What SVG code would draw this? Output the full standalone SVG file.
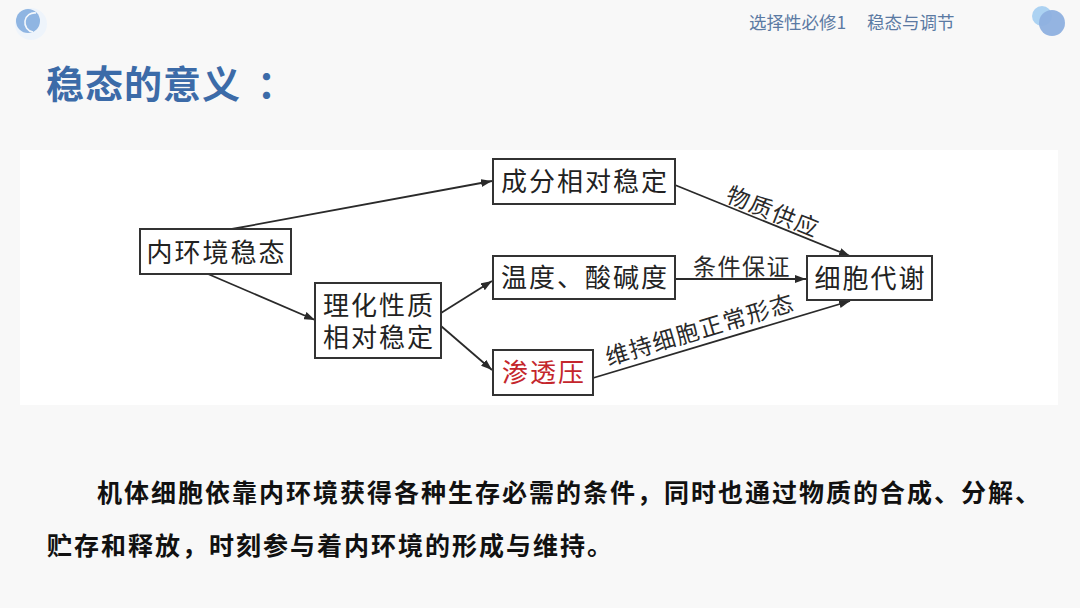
<svg xmlns="http://www.w3.org/2000/svg" width="1080" height="608" viewBox="0 0 1080 608">
<defs>
<style>
.bg{fill:#f8f8f8}
.panel{fill:#ffffff}
.box{fill:#ffffff;stroke:#333333;stroke-width:2}
.nt{font-family:"Noto Sans CJK SC","Noto Sans",sans-serif;font-size:26px;letter-spacing:2px;fill:#222222;text-anchor:middle}
.red{fill:#c4262c}
.lbl{font-family:"Noto Sans CJK SC","Noto Sans",sans-serif;font-size:23px;letter-spacing:1.5px;fill:#2a2a2a;text-anchor:middle}
.conn{stroke:#2a2a2a;stroke-width:1.8;fill:none;marker-end:url(#arr)}
.body{font-family:"Noto Sans CJK SC","Noto Sans",sans-serif;font-size:25px;font-weight:bold;letter-spacing:2px;fill:#111111}
.hdr{font-family:"Noto Sans CJK SC","Noto Sans",sans-serif;font-size:17.5px;fill:#5b7aa3}
.title{font-family:"Noto Sans CJK SC","Noto Sans",sans-serif;font-size:38px;font-weight:bold;letter-spacing:1px;fill:#3c6ba8}
</style>
<marker id="arr" markerUnits="userSpaceOnUse" markerWidth="11" markerHeight="8" refX="11" refY="4" orient="auto">
<path d="M0,0 L11,4 L0,8 z" fill="#2a2a2a"/>
</marker>
</defs>
<rect class="bg" x="0" y="0" width="1080" height="608"/>
<g id="decor">
<circle cx="31" cy="24" r="16" fill="#eef4fb"/>
<circle cx="28" cy="21" r="12" fill="#8fb5e2"/>
<path d="M36,13 A9,9 0 0 0 33,32" fill="none" stroke="#ffffff" stroke-width="1.6" opacity="0.9"/>
<circle cx="1042" cy="16" r="10" fill="#acd2f2"/>
<circle cx="1052" cy="23" r="13" fill="#8eb0df" opacity="0.95"/>
</g>
<text class="hdr" x="749" y="29">选择性必修1</text>
<text class="hdr" x="867" y="29">稳态与调节</text>
<text class="title" x="46" y="98">稳态的意义<tspan dx="16">：</tspan></text>
<rect class="panel" x="20" y="150" width="1038" height="255"/>
<g id="connectors">
<path class="conn" d="M232,229 L492,181"/>
<path class="conn" d="M208,274 L315,320"/>
<path class="conn" d="M441,313 L492,281"/>
<path class="conn" d="M441,326 L492,370"/>
<path class="conn" d="M675,185 L850,256"/>
<path class="conn" d="M675,279 L806,279"/>
<path class="conn" d="M593,378 L850,301"/>
<text class="lbl" transform="translate(773,212) rotate(22)" x="0" y="8">物质供应</text>
<text class="lbl" x="742" y="275">条件保证</text>
<text class="lbl" transform="translate(700,330) rotate(-16.7)" x="0" y="8">维持细胞正常形态</text>
</g>
<g id="node-neihuanjing">
<rect class="box" x="140" y="229" width="151" height="45"/>
<text class="nt" x="216.5" y="262">内环境稳态</text>
</g>
<g id="node-lihua">
<rect class="box" x="315" y="283" width="126" height="75"/>
<text class="nt" x="379" y="315">理化性质<tspan x="379" y="347">相对稳定</tspan></text>
</g>
<g id="node-chengfen">
<rect class="box" x="493" y="159" width="182" height="45"/>
<text class="nt" x="585" y="191">成分相对稳定</text>
</g>
<g id="node-wendu">
<rect class="box" x="493" y="256" width="182" height="43"/>
<text class="nt" x="585" y="287">温度、酸碱度</text>
</g>
<g id="node-shentouya">
<rect class="box" x="493" y="350" width="100" height="45"/>
<text class="nt red" x="544" y="382">渗透压</text>
</g>
<g id="node-xibao">
<rect class="box" x="807" y="256" width="125" height="44"/>
<text class="nt" x="870.5" y="288">细胞代谢</text>
</g>
<text class="body" x="97" y="502">机体细胞依靠内环境获得各种生存必需的条件，同时也通过物质的合成、分解、</text>
<text class="body" x="47" y="555">贮存和释放，时刻参与着内环境的形成与维持。</text>
</svg>
